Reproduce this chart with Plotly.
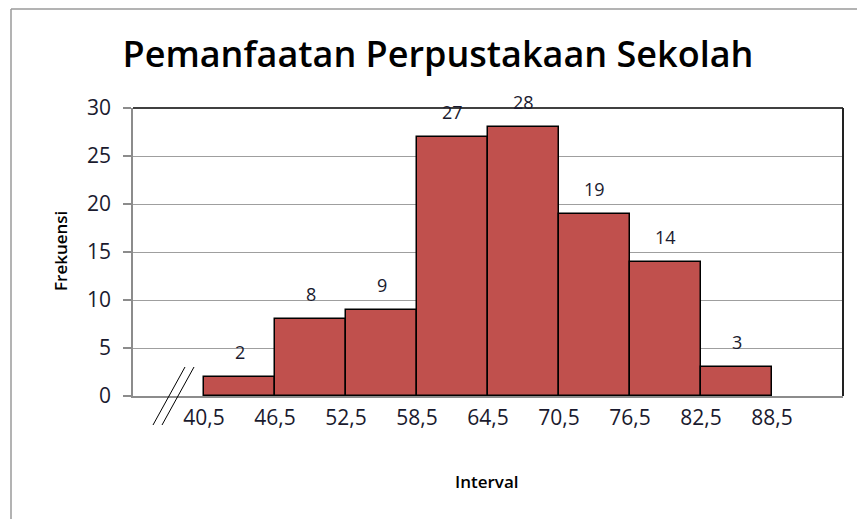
"""Histogram: Pemanfaatan Perpustakaan Sekolah."""

import plotly.graph_objects as go

# class boundaries and frequencies
edges = [40.5, 46.5, 52.5, 58.5, 64.5, 70.5, 76.5, 82.5, 88.5]
freq = [2, 8, 9, 27, 28, 19, 14, 3]
tick_text = ["40,5", "46,5", "52,5", "58,5", "64,5", "70,5", "76,5", "82,5", "88,5"]
y_ticks = [0, 5, 10, 15, 20, 25, 30]

mids = [(a + b) / 2 for a, b in zip(edges[:-1], edges[1:])]
widths = [b - a for a, b in zip(edges[:-1], edges[1:])]

FONT = "Open Sans"
TXT = "#1a1a2e"

# the page body adds an 8px offset, so the figure is 8px smaller than the window
OFF = 8
# plot area in window pixels: left 133, right 843, top 108, bottom 396
PW, PH = 710, 288


def px(x):
    return (x - 133) / PW


def py(y):
    return (396 - y) / PH


fig = go.Figure()
fig.add_trace(go.Bar(
    x=mids, y=freq, width=widths,
    marker={"color": "#C0504D", "line": {"color": "#000000", "width": 1.5}},
    hoverinfo="x+y", showlegend=False,
))

# data labels above each bar
for xm, f in zip(mids, freq):
    fig.add_annotation(x=xm, y=f, text=str(f), showarrow=False, yanchor="middle",
                       yshift=25, font={"family": FONT, "size": 18, "color": TXT})

# axis titles
fig.add_annotation(x=px(487), y=py(481), xref="paper", yref="paper",
                   text="Interval", showarrow=False, yanchor="middle",
                   font={"family": FONT, "size": 17, "color": "#000", "weight": 600})
fig.add_annotation(x=px(60), y=py(251), xref="paper", yref="paper",
                   text="Frekuensi", showarrow=False, textangle=-90,
                   xanchor="center", yanchor="middle",
                   font={"family": FONT, "size": 17, "color": "#000", "weight": 600})

# top and right border of the plot area
fig.add_shape(type="line", xref="paper", yref="paper", x0=0, x1=1, y0=1, y1=1,
              line={"color": "#000", "width": 1.5})
fig.add_shape(type="line", xref="paper", yref="paper", x0=1, x1=1, y0=0, y1=1,
              line={"color": "#222", "width": 2})

# axis break mark (two slashes)
for dx in (0, 9):
    fig.add_shape(type="line", xref="paper", yref="paper",
                  x0=px(153 + dx), y0=py(425), x1=px(185 + dx), y1=py(367),
                  line={"color": "#000", "width": 1})

# chart frame (embedded worksheet chart)
fig.add_shape(type="line", xref="paper", yref="paper",
              x0=px(11), x1=px(866), y0=py(9), y1=py(9),
              line={"color": "#9a9a9a", "width": 1.5})
fig.add_shape(type="line", xref="paper", yref="paper",
              x0=px(11), x1=px(11), y0=py(9), y1=py(520),
              line={"color": "#9a9a9a", "width": 1.5})

fig.update_xaxes(
    range=[34.5, 94.5], tickmode="array", tickvals=edges, ticktext=tick_text,
    showgrid=False, zeroline=False, showline=True, linecolor="#8c8c8c", linewidth=1.5,
    ticks="", ticklabelstandoff=2,
    tickfont={"family": FONT, "size": 21, "color": TXT}, fixedrange=True,
)
fig.update_yaxes(
    range=[0, 30], tickmode="array", tickvals=y_ticks,
    showgrid=True, gridcolor="#9f9f9f", gridwidth=1, zeroline=False,
    showline=True, linecolor="#8c8c8c", linewidth=1.5,
    ticks="outside", ticklen=8, tickcolor="#8c8c8c", tickwidth=1.5, ticklabelstandoff=8,
    tickfont={"family": FONT, "size": 21, "color": TXT}, fixedrange=True,
)

fig.update_layout(
    width=865 - OFF, height=519 - OFF,
    margin={"l": 133 - OFF, "r": 22, "t": 108 - OFF, "b": 123, "autoexpand": False},
    paper_bgcolor="white", plot_bgcolor="white",
    bargap=0,
    title={"text": "Pemanfaatan Perpustakaan Sekolah", "x": (438 - OFF) / (865 - OFF),
           "xanchor": "center", "y": 1 - (54 - OFF) / (519 - OFF), "yanchor": "middle",
           "font": {"family": FONT, "size": 36, "color": "#000", "weight": 600}},
)

fig.write_html("out.html")
